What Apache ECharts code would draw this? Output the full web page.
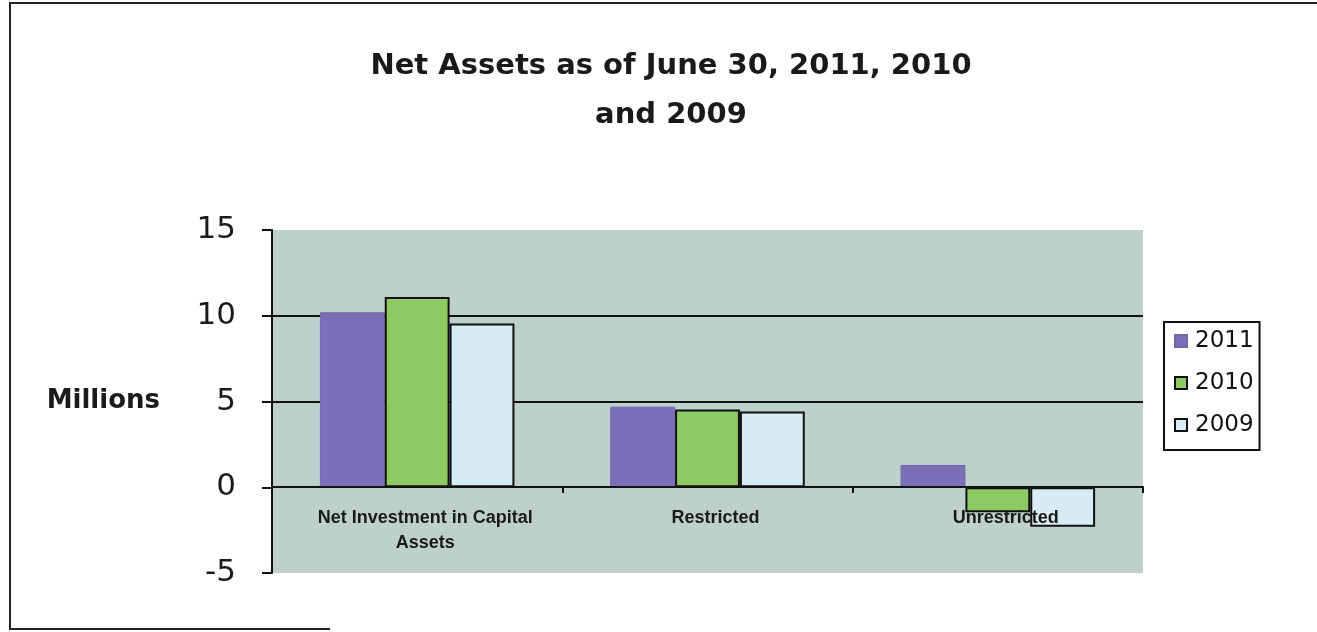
<!DOCTYPE html>
<html><head><meta charset="utf-8">
<script src="https://cdn.jsdelivr.net/npm/echarts@6/dist/echarts.min.js"></script>
<style>html,body{margin:0;padding:0;background:#fff}#c{width:1317px;height:632px}</style>
</head><body><div id="c"></div>
<script>
const categories = ['Net Investment in Capital\nAssets', 'Restricted', 'Unrestricted'];
const seriesNames = ['2011', '2010', '2009'];
const values2011 = [10.2, 4.7, 1.3];
const values2010 = [11.1, 4.53, -1.46];
const values2009 = [9.55, 4.42, -2.3];
const yTicks = [-5, 0, 5, 10, 15];

const chart = echarts.init(document.getElementById('c'));
const SANS = '"DejaVu Sans", sans-serif';
const ARIAL = '"Liberation Sans", Arial, sans-serif';
const colors = ['#7b70b8', '#8dca64', '#d8ecf4'];
const borders = ['#7166ad', '#111', '#111'];
const dataSets = [values2011, values2010, values2009];

chart.setOption({
  animation: false,
  backgroundColor: '#fff',
  title: {
    text: 'Net Assets as of June 30, 2011, 2010\nand 2009',
    left: 666, top: 37, textAlign: 'center',
    textStyle: {fontFamily: SANS, fontSize: 29, fontWeight: 'bold', color: '#1a1a1a', lineHeight: 49}
  },
  legend: {
    data: seriesNames,
    orient: 'vertical',
    left: 1164, top: 322,
    icon: 'rect',
    itemWidth: 12, itemHeight: 12, itemGap: 18,
    padding: [7, 6, 13, 10],
    borderColor: '#111', borderWidth: 2,
    backgroundColor: '#fff',
    textStyle: {fontFamily: SANS, fontSize: 23, color: '#111', lineHeight: 24, padding: [0, 0, 0, 3]}
  },
  grid: {
    left: 272, top: 230, width: 871, height: 343,
    show: true, backgroundColor: '#bed0cc', borderWidth: 0
  },
  xAxis: {
    type: 'category', data: categories,
    offset: -86, z: 10,
    axisLine: {onZero: false, lineStyle: {color: '#111', width: 2}},
    axisTick: {show: true, length: 6, lineStyle: {color: '#111', width: 2}},
    axisLabel: {fontFamily: ARIAL, fontSize: 18, fontWeight: 'bold', color: '#1a1a1a', margin: 19, lineHeight: 25, padding: [0, 0, 0, 16]}
  },
  yAxis: {
    type: 'value', min: -5, max: 15, interval: 5,
    name: 'Millions', nameLocation: 'middle', nameGap: 112, nameRotate: 0,
    nameTextStyle: {fontFamily: SANS, fontSize: 26, fontWeight: 'bold', color: '#1a1a1a', padding: [0, 0, 10, 0]},
    axisLine: {show: true, lineStyle: {color: '#111', width: 2}},
    axisTick: {show: true, inside: false, length: 10, lineStyle: {color: '#111', width: 2}},
    axisLabel: {fontFamily: SANS, fontSize: 31, color: '#1a1a1a', margin: 36},
    splitLine: {show: true, lineStyle: {color: ['transparent', 'transparent', '#111', '#111', 'transparent'], width: 2}}
  },
  series: seriesNames.map((n, i) => ({
    name: n, type: 'bar', data: dataSets[i],
    barGap: '0%', barCategoryGap: '33%',
    itemStyle: {color: colors[i], borderColor: borders[i], borderWidth: i === 0 ? 1 : 2}
  })),
  graphic: [
    {type: 'polyline', shape: {points: [[1317, 3], [10, 3], [10, 629], [330, 629]]}, style: {stroke: '#222', lineWidth: 2, fill: null}}
  ]
});
</script></body></html>
